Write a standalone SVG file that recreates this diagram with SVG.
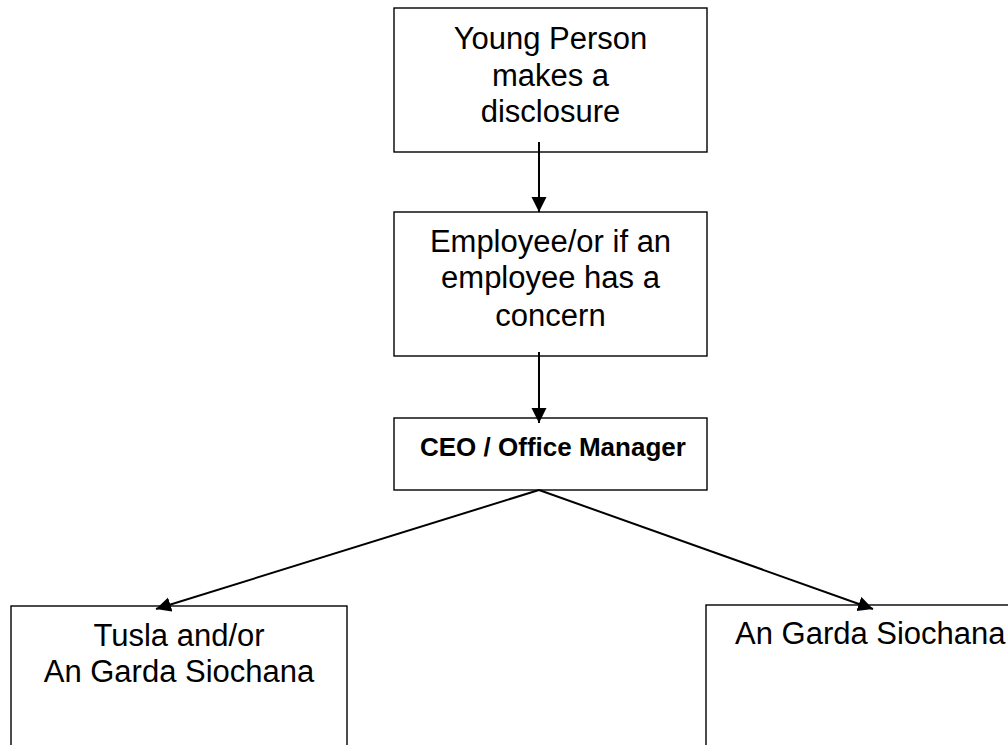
<svg xmlns="http://www.w3.org/2000/svg" width="1008" height="745" viewBox="0 0 1008 745">
<style>
.box{fill:#fff;stroke:#000;stroke-width:1.4}
.t{font-family:"Liberation Sans",Arial,sans-serif;font-size:31px;fill:#000;text-anchor:middle}
.b{font-family:"Liberation Sans",Arial,sans-serif;font-size:26px;font-weight:bold;fill:#000}
.c{stroke:#000;stroke-width:2;fill:none}
</style>
<defs>
<marker id="ah" viewBox="0 0 10 10" refX="10" refY="5" markerWidth="7.5" markerHeight="8" markerUnits="strokeWidth" orient="auto">
<path d="M0,0 L10,5 L0,10 Z" fill="#000"/>
</marker>
</defs>
<rect width="1008" height="745" fill="#fff"/>
<g id="n1">
<rect class="box" x="394" y="8" width="313" height="144"/>
<text class="t" x="550.5" y="49">Young Person</text>
<text class="t" x="550.5" y="86">makes a</text>
<text class="t" x="550.5" y="122">disclosure</text>
</g>
<g id="n2">
<rect class="box" x="394" y="212" width="313" height="144"/>
<text class="t" x="550.5" y="252">Employee/or if an</text>
<text class="t" x="550.5" y="288">employee has a</text>
<text class="t" x="550.5" y="326">concern</text>
</g>
<g id="n3">
<rect class="box" x="394" y="418" width="313" height="72"/>
<text class="b" x="420" y="456">CEO / Office Manager</text>
</g>
<g id="n4">
<rect class="box" x="11" y="606" width="336" height="160"/>
<text class="t" x="179" y="646">Tusla and/or</text>
<text class="t" x="179" y="682">An Garda Siochana</text>
</g>
<g id="n5">
<rect class="box" x="706" y="605" width="320" height="160"/>
<text class="t" x="735" y="644" style="text-anchor:start">An Garda Siochana</text>
</g>
<g id="connectors">
<line class="c" x1="539" y1="142" x2="539" y2="212" marker-end="url(#ah)"/>
<line class="c" x1="539" y1="352" x2="539" y2="423" marker-end="url(#ah)"/>
<line class="c" x1="539" y1="490" x2="156" y2="609" marker-end="url(#ah)"/>
<line class="c" x1="539" y1="490" x2="873" y2="609" marker-end="url(#ah)"/>
</g>
</svg>
